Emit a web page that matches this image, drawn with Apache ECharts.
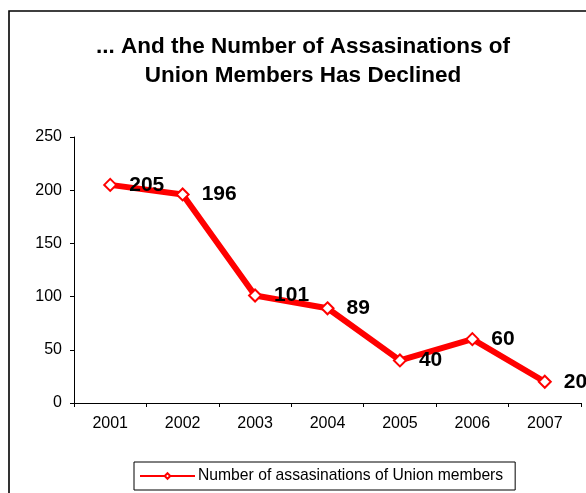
<!DOCTYPE html>
<html>
<head>
<meta charset="utf-8">
<script src="https://cdn.jsdelivr.net/npm/echarts@6/dist/echarts.min.js"></script>
<style>
html,body{margin:0;padding:0;background:#fff;}
#chart{width:586px;height:493px;}
</style>
</head>
<body>
<div id="chart"></div>
<script>
var titleLines = ['... And the Number of Assasinations of', 'Union Members Has Declined'];
var seriesName = 'Number of assasinations of Union members';
var years = ['2001', '2002', '2003', '2004', '2005', '2006', '2007'];
var assassinations = [205, 196, 101, 89, 40, 60, 20];
var yMin = 0, yMax = 250, yStep = 50;

var FONT = '"Liberation Sans", Arial, sans-serif';

var chart = echarts.init(document.getElementById('chart'), null, {renderer: 'canvas'});
chart.setOption({
  animation: false,
  backgroundColor: '#ffffff',
  title: {
    text: titleLines.join('\n'),
    left: 298,
    top: 27,
    padding: 5,
    textAlign: 'center',
    textStyle: {
      fontFamily: FONT,
      fontWeight: 'bold',
      fontSize: 22.5,
      lineHeight: 29,
      color: '#000',
      align: 'center'
    }
  },
  graphic: [{
    type: 'rect',
    silent: true,
    shape: {x: 9, y: 11, width: 620, height: 520},
    style: {fill: 'none', stroke: '#000', lineWidth: 1.6}
  }],
  legend: {
    left: 134,
    top: 462,
    padding: [6, 12, 6, 5],
    itemWidth: 55,
    itemHeight: 7,
    borderColor: '#000',
    borderWidth: 1,
    textStyle: {fontFamily: FONT, fontSize: 15.7, color: '#000', padding: [0, 0, 0, -2]},
    data: [seriesName]
  },
  grid: {
    left: 74,
    right: 5,
    top: 137,
    bottom: 90,
    outerBoundsMode: 'none'
  },
  xAxis: {
    type: 'category',
    data: years,
    boundaryGap: true,
    axisLine: {show: true, lineStyle: {color: '#000', width: 1}},
    axisTick: {show: true, inside: false, length: 4, alignWithLabel: false, lineStyle: {color: '#000'}},
    axisLabel: {fontFamily: FONT, fontSize: 16, color: '#000', margin: 13},
    splitLine: {show: false}
  },
  yAxis: {
    type: 'value',
    min: yMin,
    max: yMax,
    interval: yStep,
    axisLine: {show: true, lineStyle: {color: '#000', width: 1}},
    axisTick: {show: true, inside: false, length: 4, lineStyle: {color: '#000'}},
    axisLabel: {fontFamily: FONT, fontSize: 16, color: '#000', margin: 12},
    splitLine: {show: false}
  },
  series: [{
    name: seriesName,
    type: 'line',
    data: assassinations,
    symbol: 'diamond',
    symbolSize: 12,
    showAllSymbol: true,
    lineStyle: {color: '#ff0000', width: 6},
    itemStyle: {color: '#ffffff', borderColor: '#ff0000', borderWidth: 2},
    label: {
      show: true,
      position: 'right',
      distance: 12,
      fontFamily: FONT,
      fontWeight: 'bold',
      fontSize: 21,
      color: '#000'
    },
    emphasis: {disabled: true}
  }]
});
</script>
</body>
</html>
